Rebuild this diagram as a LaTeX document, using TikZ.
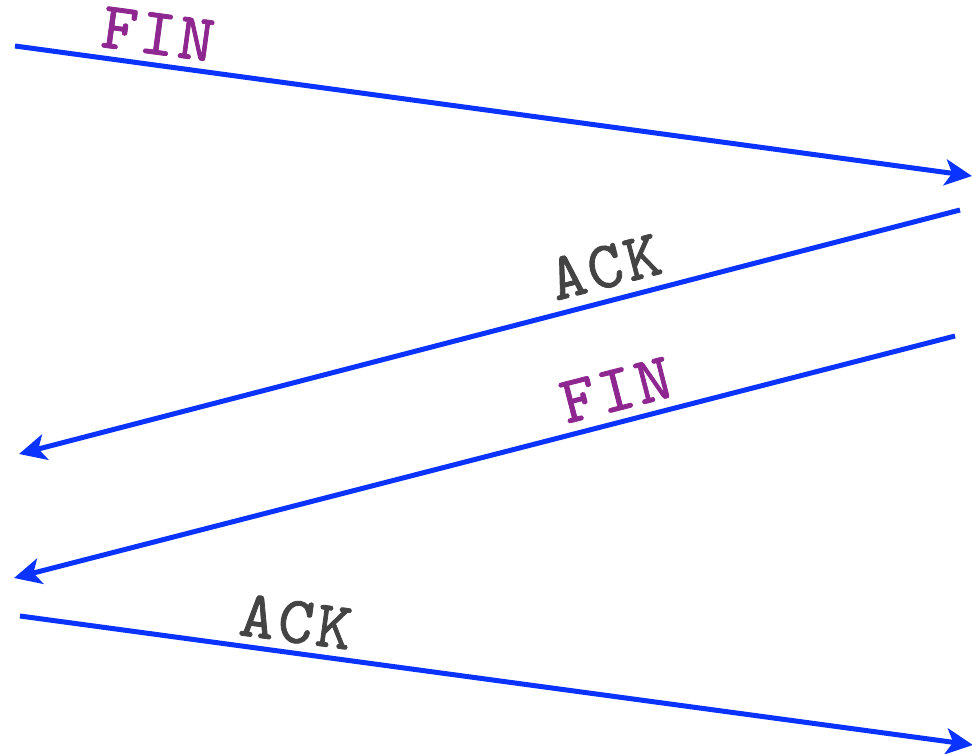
\documentclass[tikz,border=0pt]{standalone}
\usepackage{fontspec}
\newfontfamily\lblfont{lmmono10-regular.otf}[FakeBold=1.2, LetterSpace=5]
\usetikzlibrary{arrows.meta}
\definecolor{linkblue}{HTML}{0A33FF}
\definecolor{finpurple}{HTML}{8E2790}
\definecolor{ackgray}{HTML}{444444}
\tikzset{
  msg/.style={draw=linkblue, line width=5pt, -{Stealth[length=27pt,width=26pt,inset=7pt]}},
  lbl/.style={font=\lblfont\fontsize{67}{67}\selectfont, inner sep=0pt, anchor=center},
  finlbl/.style={lbl, text=finpurple},
  acklbl/.style={lbl, text=ackgray}
}
\begin{document}
\begin{tikzpicture}[x=1pt,y=-1pt]
\useasboundingbox (0,0) rectangle (972,754);
\coordinate (a1s) at (15,46);
\coordinate (a1e) at (972,176);
\coordinate (a2s) at (960,210);
\coordinate (a2e) at (19,454);
\coordinate (a3s) at (955,336);
\coordinate (a3e) at (14,578);
\coordinate (a4s) at (20,616);
\coordinate (a4e) at (973,745);
\draw[msg] (a1s) -- (a1e);
\draw[msg] (a2s) -- (a2e);
\draw[msg] (a3s) -- (a3e);
\draw[msg] (a4s) -- (a4e);
\node[finlbl, rotate=-7.7] (fin1) at (158,34) {FIN};
\node[acklbl, rotate=14.5] (ack1) at (605,267) {ACK};
\node[finlbl, rotate=14.4] (fin2) at (616,390) {FIN};
\node[acklbl, rotate=-7.7] (ack2) at (296,622) {ACK};
\end{tikzpicture}
\end{document}
